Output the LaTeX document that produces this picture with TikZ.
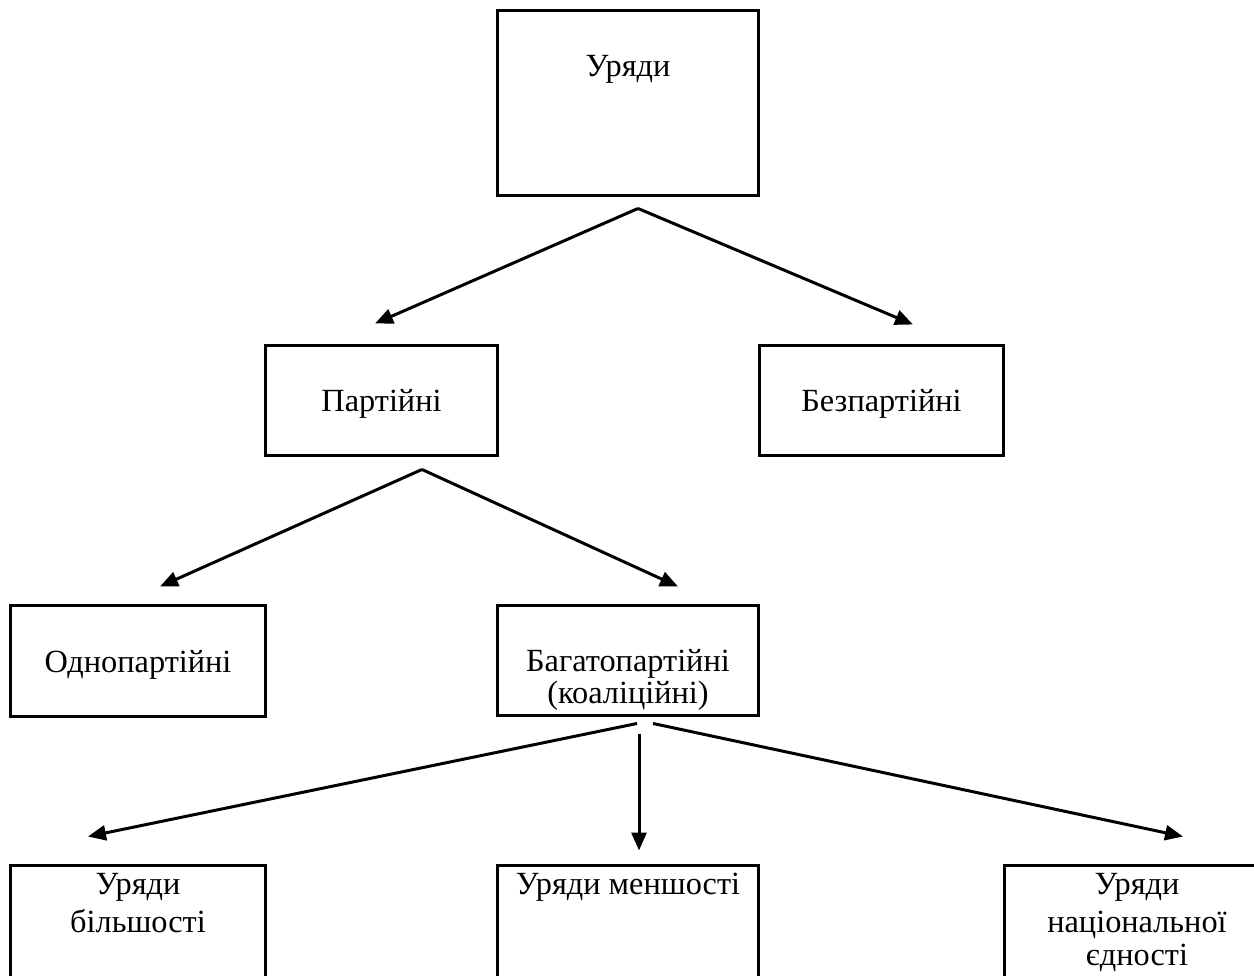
\documentclass[tikz,border=0pt]{standalone}
\usepackage{fontspec}
\setmainfont{Liberation Serif}
\usetikzlibrary{arrows.meta}
\begin{document}
\begin{tikzpicture}[x=0.02cm,y=-0.02cm,
  box/.style={draw,line width=1.7pt,rectangle,inner sep=0pt},
  lbl/.style={anchor=base,inner sep=0pt,font=\fontsize{18.4}{22}\selectfont},
  arr/.style={line width=1.7pt,-{Triangle[length=0.36cm,width=0.30cm]}}]
\clip (0,0) rectangle (1254,976);
\fill[white] (0,0) rectangle (1254,976);

% boxes
\node[box,minimum width=5.24cm,minimum height=3.72cm] (gov) at (628,103) {};
\node[box,minimum width=4.66cm,minimum height=2.22cm] (party) at (381.5,400.5) {};
\node[box,minimum width=4.90cm,minimum height=2.22cm] (nonparty) at (881.5,400.5) {};
\node[box,minimum width=5.12cm,minimum height=2.24cm] (single) at (138,661) {};
\node[box,minimum width=5.24cm,minimum height=2.22cm] (multi) at (628,660.5) {};
\node[box,minimum width=5.12cm,minimum height=3.00cm] (major) at (138,940) {};
\node[box,minimum width=5.24cm,minimum height=3.00cm] (minor) at (628,940) {};
\node[box,minimum width=5.12cm,minimum height=3.00cm] (natunity) at (1132,940) {};

% texts
\node[lbl] (govT) at (628,77) {Уряди};
\node[lbl] (partyT) at (381.5,412) {Партійні};
\node[lbl] (nonpartyT) at (881.5,412) {Безпартійні};
\node[lbl] (singleT) at (138,672) {Однопартійні};
\node[lbl] (multiT1) at (628,671) {Багатопартійні};
\node[lbl] (multiT2) at (628,703) {(коаліційні)};
\node[lbl] (majorT1) at (138,894) {Уряди};
\node[lbl] (majorT2) at (138,932) {більшості};
\node[lbl] (minorT) at (628,894) {Уряди меншості};
\node[lbl] (natT1) at (1137,894) {Уряди};
\node[lbl] (natT2) at (1137,932) {національної};
\node[lbl] (natT3) at (1137,965) {єдності};

% branch points and arrow ends
\coordinate (gS) at ([shift={(10,11)}]gov.south);
\coordinate (pS) at ([shift={(40.5,12)}]party.south);
\coordinate (mSL) at ([shift={(9,6)}]multi.south);
\coordinate (mSC) at ([shift={(11,17)}]multi.south);
\coordinate (mSR) at ([shift={(25,6)}]multi.south);

\draw[arr] (gS) -- ([shift={(-6.5,-20)}]party.north);
\draw[arr] (gS) -- ([shift={(31.5,-19)}]nonparty.north);
\draw[arr] (pS) -- ([shift={(22,-17)}]single.north);
\draw[arr] (pS) -- ([shift={(50,-17)}]multi.north);
\draw[arr] (mSL) -- ([shift={(-50,-27)}]major.north);
\draw[arr] (mSC) -- ([shift={(11,-13)}]minor.north);
\draw[arr] (mSR) -- ([shift={(51,-27)}]natunity.north);
\end{tikzpicture}
\end{document}
